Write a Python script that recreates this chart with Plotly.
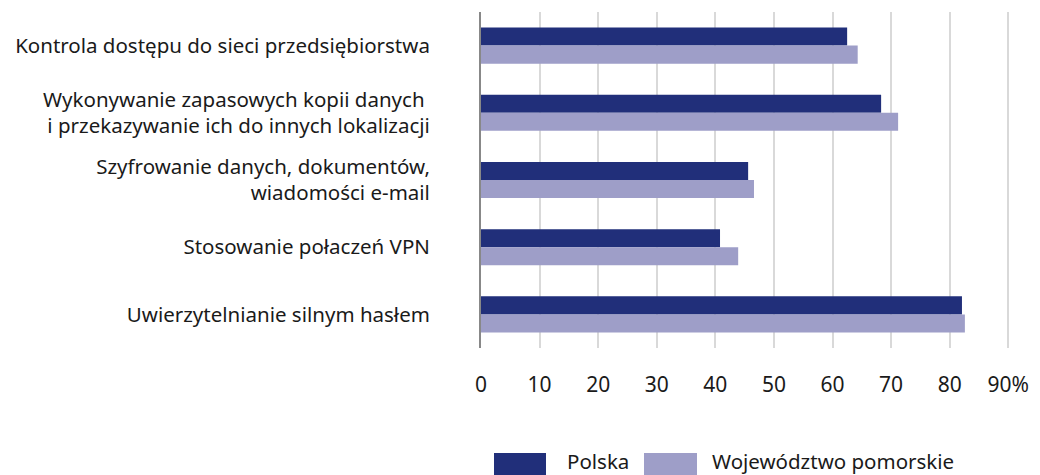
import plotly.graph_objects as go

categories = [
    "Kontrola dostępu do sieci przedsiębiorstwa",
    "Wykonywanie zapasowych kopii danych <br>i przekazywanie ich do innych lokalizacji",
    "Szyfrowanie danych, dokumentów,<br>wiadomości e-mail",
    "Stosowanie połaczeń VPN",
    "Uwierzytelnianie silnym hasłem",
]
polska = [62.5, 68.3, 45.6, 40.8, 82.1]
pomorskie = [64.3, 71.2, 46.6, 43.9, 82.6]
series_names = ["Polska", "Województwo pomorskie"]
colors = ["#212F7A", "#9E9EC8"]
tick_vals = [0, 10, 20, 30, 40, 50, 60, 70, 80, 90]
tick_text = ["0", "10", "20", "30", "40", "50", "60", "70", "80", "90%"]

FONT = "Noto Sans"
TXT = "#1a1a1a"

fig = go.Figure()
for name, vals, col in zip(series_names, [polska, pomorskie], colors):
    fig.add_trace(go.Bar(
        y=categories, x=vals, name=name, orientation="h",
        marker=dict(color=col, line=dict(width=0)),
        showlegend=False,
    ))

# page has an 8px body margin: figure origin sits at page (8, 8)
# plot area in page px: x 481-~1010, y 12-348 (90 gridline at 1008)
fig.update_layout(
    width=1032, height=467,
    margin=dict(l=473, r=30, t=4, b=127, autoexpand=False),
    paper_bgcolor="white", plot_bgcolor="white",
    barmode="group", bargap=0.463, bargroupgap=0,
    font=dict(family=FONT, size=20, color=TXT),
)
fig.update_xaxes(
    range=[0, 90.3], tickvals=tick_vals, ticktext=tick_text,
    showgrid=True, gridcolor="#D9D9D9", gridwidth=2,
    zeroline=False, showline=False, ticks="",
    ticklabelstandoff=22, tickfont=dict(size=21),
    automargin=False,
)
fig.update_yaxes(
    autorange="reversed", showgrid=False, zeroline=False,
    showline=True, linecolor="#888888", linewidth=2, ticks="",
    ticklabelstandoff=45, tickfont=dict(size=20.5),
    automargin=False,
)

PW = 529.0  # plot width in px

def px_x(p):
    return (p - 481) / PW

def px_y(p):
    return (348 - p) / 336

items = [(0, 494, 546, 565), (1, 644, 697, 710)]
for i, x0, x1, tx in items:
    fig.add_shape(type="rect", xref="paper", yref="paper",
                  x0=px_x(x0), x1=px_x(x1), y0=px_y(475), y1=px_y(453),
                  fillcolor=colors[i], line=dict(width=0))
    fig.add_annotation(xref="paper", yref="paper",
                       x=px_x(tx), y=px_y(461),
                       text=series_names[i], showarrow=False,
                       xanchor="left", yanchor="middle",
                       font=dict(family=FONT, size=20.5, color=TXT))

fig.write_html("out.html")
